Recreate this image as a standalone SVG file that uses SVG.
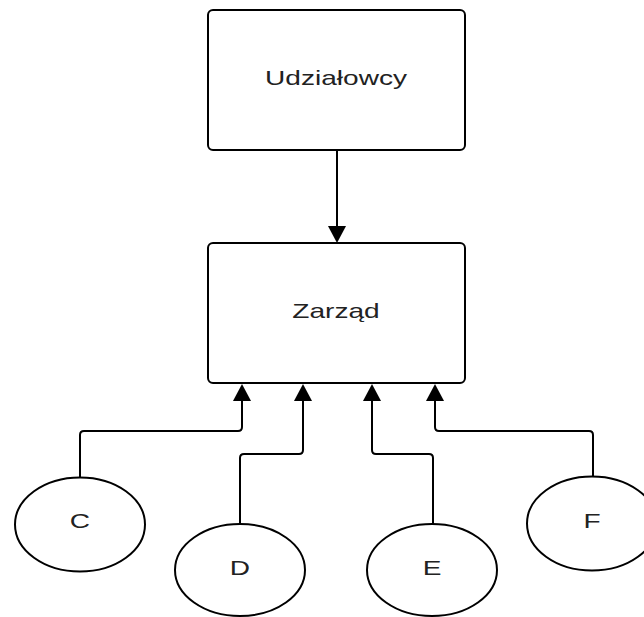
<svg xmlns="http://www.w3.org/2000/svg" width="644" height="617" viewBox="0 0 644 617">
<style>
.box{fill:#fff;stroke:#000;stroke-width:2}
.circ{fill:#fff;stroke:#000;stroke-width:2}
.lbl{font-family:"Liberation Sans",Arial,sans-serif;font-size:20.5px;fill:#222;text-anchor:middle}
.con{fill:none;stroke:#000;stroke-width:2;stroke-linejoin:round}
.ah{fill:#000}
</style>
<rect width="644" height="617" fill="#fff"/>
<g id="connectors">
<path class="con" d="M337 150 V228"/>
<polygon class="ah" points="337,243 328,226 346,226"/>
<path class="con" d="M80 477 V435 Q80 431 84 431 H238 Q242 431 242 427 V399"/>
<polygon class="ah" points="242,384 233,401 251,401"/>
<path class="con" d="M240 524 V458 Q240 454 244 454 H299 Q303 454 303 450 V399"/>
<polygon class="ah" points="303,384 294,401 312,401"/>
<path class="con" d="M433 524 V458 Q433 454 429 454 H376 Q372 454 372 450 V399"/>
<polygon class="ah" points="372,384 363,401 381,401"/>
<path class="con" d="M593 477 V435 Q593 431 589 431 H439 Q435 431 435 427 V399"/>
<polygon class="ah" points="435,384 426,401 444,401"/>
</g>
<g id="udzialowcy">
<rect class="box" x="208" y="10" width="257" height="140" rx="5"/>
<text class="lbl" transform="translate(336 85) scale(1.37 1)">Udziałowcy</text>
</g>
<g id="zarzad">
<rect class="box" x="208" y="243" width="257" height="140" rx="5"/>
<text class="lbl" transform="translate(336 318) scale(1.37 1)">Zarząd</text>
</g>
<g id="c">
<ellipse class="circ" cx="80" cy="524.5" rx="65" ry="47"/>
<text class="lbl" transform="translate(80 528) scale(1.37 1)">C</text>
</g>
<g id="d">
<ellipse class="circ" cx="240" cy="570" rx="65" ry="46"/>
<text class="lbl" transform="translate(240 575) scale(1.37 1)">D</text>
</g>
<g id="e">
<ellipse class="circ" cx="432" cy="570" rx="65" ry="46"/>
<text class="lbl" transform="translate(432 575) scale(1.37 1)">E</text>
</g>
<g id="f">
<ellipse class="circ" cx="592" cy="523.5" rx="65" ry="47"/>
<text class="lbl" transform="translate(592 528) scale(1.37 1)">F</text>
</g>
</svg>
